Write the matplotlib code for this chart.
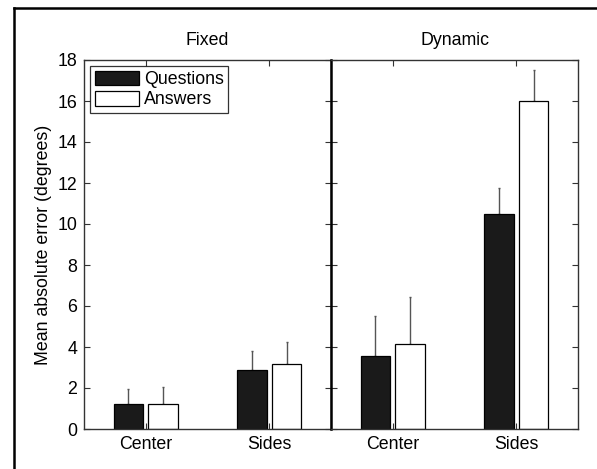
import matplotlib.pyplot as plt
import numpy as np
from matplotlib.lines import Line2D

plt.rcParams["font.family"] = ["Liberation Sans", "DejaVu Sans"]

# ── Data ─────────────────────────────────────────────────────────────────────
panels = ["Fixed", "Dynamic"]
categories = ["Center", "Sides"]
questions = {"Fixed": [1.2, 2.86], "Dynamic": [3.55, 10.5]}
answers = {"Fixed": [1.2, 3.17], "Dynamic": [4.13, 16.0]}
questions_err = {"Fixed": [0.75, 0.93], "Dynamic": [1.95, 1.27]}
answers_err = {"Fixed": [0.83, 1.06], "Dynamic": [2.32, 1.5]}
yticks = [0, 2, 4, 6, 8, 10, 12, 14, 16, 18]

fig = plt.figure(figsize=(5.97, 4.69), dpi=100)
W, H = 597, 469

# outer frame (left and top edges visible, rest cut off)
fig.add_artist(Line2D([14 / W, 14 / W], [0, 1 - 8 / H], color="black", lw=1.8,
                      transform=fig.transFigure))
fig.add_artist(Line2D([14 / W, 1], [1 - 8 / H, 1 - 8 / H], color="black", lw=1.8,
                      transform=fig.transFigure))

ax_bottom = 1 - 429 / H
ax_height = (429 - 60) / H
lefts = [84, 331]
width_px = 247
fs = 12.8

x = np.arange(1, len(categories) + 1)
bw = 0.24
off = 0.14
for i, panel in enumerate(panels):
    ax = fig.add_axes([lefts[i] / W, ax_bottom, width_px / W, ax_height])
    ax.bar(x - off, questions[panel], bw, color="#1a1a1a", edgecolor="black",
           linewidth=0.9, label="Questions", zorder=2)
    ax.bar(x + off, answers[panel], bw, color="white", edgecolor="black",
           linewidth=0.9, label="Answers", zorder=2)
    ax.errorbar(x - off, questions[panel], yerr=[np.zeros(2), questions_err[panel]],
                fmt="none", ecolor="#555555", elinewidth=1.0, capsize=1, zorder=1)
    ax.errorbar(x + off, answers[panel], yerr=[np.zeros(2), answers_err[panel]],
                fmt="none", ecolor="#555555", elinewidth=1.0, capsize=1, zorder=1)
    ax.set_xlim(0.5, 2.5)
    ax.set_ylim(0, 18)
    ax.set_xticks(x)
    ax.set_xticklabels(categories, fontsize=fs)
    ax.set_yticks(yticks)
    ax.tick_params(direction="in", top=True, right=True, length=4,
                   width=0.8, color="#333333", pad=5, labelsize=fs)
    for s in ax.spines.values():
        s.set_linewidth(1.0)
        s.set_color("#333333")
    ax.set_title(panel, fontsize=fs, pad=11)
    if i == 0:
        ax.set_ylabel("Mean absolute error (degrees)", fontsize=fs, labelpad=4)
        leg = ax.legend(loc="upper left", fontsize=fs, frameon=True, fancybox=False,
                        borderpad=0.25, handlelength=2.5, handleheight=0.9,
                        handletextpad=0.28, labelspacing=0.15, borderaxespad=0.35)
        leg.get_frame().set_edgecolor("black")
        leg.get_frame().set_linewidth(0.9)
    else:
        ax.set_yticklabels([])
        ax.spines["left"].set_linewidth(1.8)
        ax.spines["left"].set_color("black")

fig.savefig("out.png", dpi=100)
